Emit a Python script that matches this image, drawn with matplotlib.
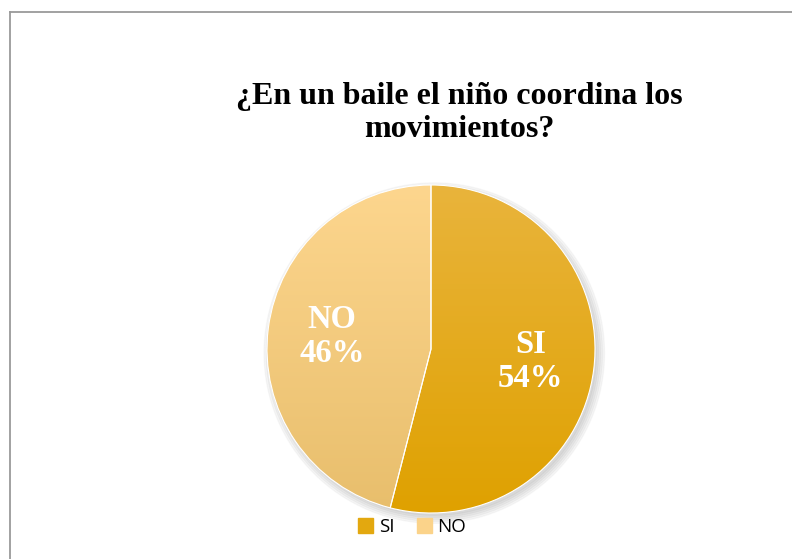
import numpy as np
import matplotlib
matplotlib.use("Agg")
import matplotlib.pyplot as plt
from matplotlib.colors import LinearSegmentedColormap

categories = ["SI", "NO"]
values = [54, 46]
top_colors = ["#E9B43C", "#FDD68E"]
bottom_colors = ["#DFA100", "#E8BE6C"]
legend_colors = ["#E3A80F", "#FBD38A"]

fig = plt.figure(figsize=(7.92, 5.59), dpi=100)

# frame of the chart area (top and left edges visible)
fig.add_artist(plt.Line2D([10 / 792, 1], [1 - 12 / 559, 1 - 12 / 559], color="#9a9a9a", lw=1.3))
fig.add_artist(plt.Line2D([10 / 792, 10 / 792], [0, 1 - 12 / 559], color="#9a9a9a", lw=1.3))

fig.text(459 / 792, 1 - 137 / 559, "¿En un baile el niño coordina los\nmovimientos?",
         ha="center", va="baseline", fontsize=23, fontweight="bold",
         family="Liberation Serif", linespacing=1.17)

cx, cy, r = 431, 349, 164
ax = fig.add_axes([(cx - r) / 792, (559 - cy - r) / 559, 2 * r / 792, 2 * r / 559])

# soft shadow, mostly towards the lower right
for k in range(5):
    sh = plt.Circle((0.02, -0.025), 0.99 + 0.012 * k, color="black", alpha=0.03,
                    zorder=0, clip_on=False)
    ax.add_patch(sh)

wedges, texts = ax.pie(values, labels=[f"{c}\n{v}%" for c, v in zip(categories, values)],
                       startangle=90, counterclock=False, labeldistance=0.61,
                       colors=legend_colors, wedgeprops=dict(linewidth=0.8, edgecolor="white"),
                       textprops=dict(color="white", fontsize=23.5, fontweight="bold",
                                      family="Liberation Serif", ha="center", va="center",
                                      linespacing=1.1))

# vertical gradient inside each wedge
yy = np.linspace(1, 0, 256).reshape(-1, 1)
for w, c0, c1 in zip(wedges, top_colors, bottom_colors):
    cmap = LinearSegmentedColormap.from_list("g", [c1, c0])
    im = ax.imshow(yy, cmap=cmap, extent=[-1, 1, -1, 1], aspect="auto", zorder=1.5,
                   interpolation="bilinear")
    im.set_clip_path(w)
    w.set_facecolor("none")
    w.set_zorder(2)
for t in texts:
    t.set_zorder(3)

ax.set_xlim(-1.0, 1.0)
ax.set_ylim(-1.0, 1.0)
ax.set_aspect("equal")
ax.axis("off")

handles = [plt.Rectangle((0, 0), 1, 1, color=c) for c in legend_colors]
fig.legend(handles, categories, loc="center", bbox_to_anchor=(412 / 792, 1 - 527 / 559),
           ncol=2, frameon=False, prop=dict(family="Open Sans", size=13.5),
           handlelength=0.8, handleheight=0.8, handletextpad=0.3, columnspacing=1.2)

fig.savefig("out.png", dpi=100)
